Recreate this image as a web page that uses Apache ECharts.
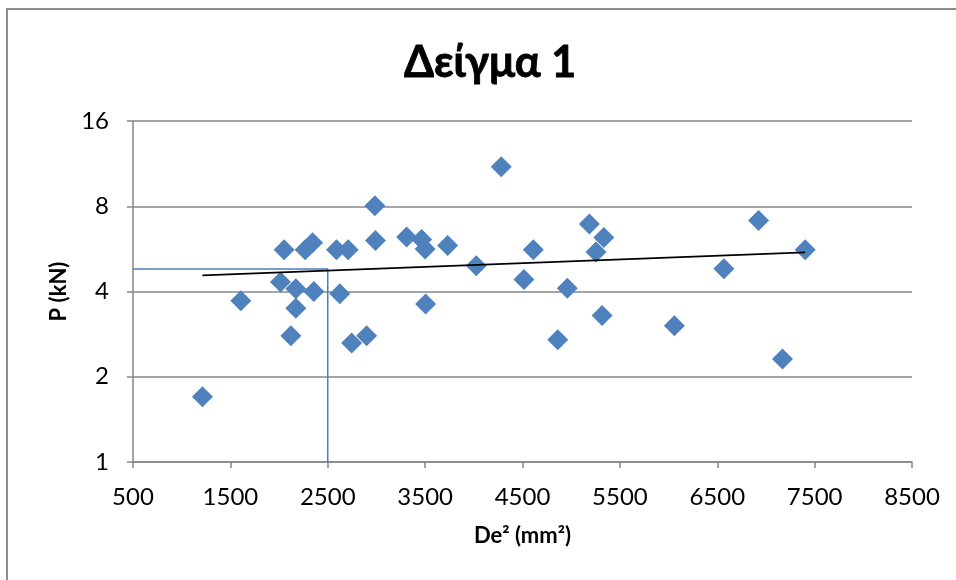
<!DOCTYPE html>
<html>
<head>
<meta charset="utf-8">
<title>Δείγμα 1</title>
<script src="https://cdn.jsdelivr.net/npm/echarts@6/dist/echarts.min.js"></script>
<style>
  html, body { margin: 0; padding: 0; background: #fff; }
  #chart { width: 956px; height: 580px; }
</style>
</head>
<body>
<div id="chart"></div>
<script>
// Specimen 1 measurements: De² (mm²) against failure load P (kN)
const de2Values = [
  1213, 1607, 2052, 2015, 2172, 2172, 2121, 2268, 2344, 2357,
  2590, 2710, 2624, 2745, 2899, 2984, 2990, 3310, 3464, 3500,
  3505, 3731, 4025, 4282, 4611, 4515, 4960, 4862, 5187, 5335,
  5255, 5317, 6060, 6568, 6924, 7170, 7403
];
const pValues = [
  1.70, 3.71, 5.62, 4.32, 4.09, 3.49, 2.79, 5.62, 5.94, 4.00,
  5.62, 5.62, 3.93, 2.63, 2.79, 8.03, 6.05, 6.23, 6.10, 5.65,
  3.61, 5.82, 4.93, 11.03, 5.62, 4.41, 4.11, 2.70, 6.93, 6.21,
  5.52, 3.29, 3.03, 4.81, 7.12, 2.31, 5.62
];

// Exponential trend line end points (straight on the log axis)
const trendX = [1213, 7403];
const trendP = [4.56, 5.50];

// Read-off guide: P at De² = 2500
const guideX = [500, 2500, 2500];
const guideP = [4.8, 4.8, 1];

// Axis ticks
const xTicks = [500, 1500, 2500, 3500, 4500, 5500, 6500, 7500, 8500];
const yTicks = [1, 2, 4, 8, 16];

const zip = (xs, ys) => xs.map((x, i) => [x, ys[i]]);

const chart = echarts.init(document.getElementById('chart'), null, { renderer: 'canvas' });

const font = 'Lato, "Open Sans", "Noto Sans", sans-serif';
const axisGrey = '#878787';

chart.setOption({
  animation: false,
  backgroundColor: '#ffffff',
  textStyle: { fontFamily: font },
  graphic: [{
    type: 'rect',
    shape: { x: 7, y: 9, width: 1000, height: 640 },
    style: { fill: 'none', stroke: '#8c8c8c', lineWidth: 2 },
    silent: true
  }],
  title: {
    text: 'Δείγμα 1',
    left: 399,
    top: 37,
    textStyle: {
      fontFamily: font, fontSize: 43, fontWeight: 'bold', color: '#000',
      textBorderColor: '#000', textBorderWidth: 0.8
    }
  },
  grid: { left: 133, right: 44, top: 121, bottom: 118, containLabel: false },
  xAxis: {
    type: 'value',
    min: 500,
    max: 8500,
    name: 'De² (mm²)',
    nameLocation: 'middle',
    nameGap: 63,
    nameTextStyle: { fontFamily: font, fontSize: 22, fontWeight: 'bold', color: '#000' },
    axisLine: { lineStyle: { color: axisGrey, width: 1.5 } },
    axisTick: { show: true, length: 6, customValues: xTicks, lineStyle: { color: axisGrey, width: 1.5 } },
    axisLabel: {
      customValues: xTicks, margin: 23, fontFamily: font, fontSize: 24, color: '#000',
      formatter: v => String(v)
    },
    splitLine: { show: false }
  },
  yAxis: {
    type: 'log',
    logBase: 2,
    min: 1,
    max: 16,
    name: 'P (kN)',
    nameLocation: 'middle',
    nameGap: 63,
    nameRotate: 90,
    nameTextStyle: { fontFamily: font, fontSize: 22, fontWeight: 'bold', color: '#000' },
    axisLine: { show: true, lineStyle: { color: axisGrey, width: 1.5 } },
    axisTick: { show: true, length: 6, customValues: yTicks, lineStyle: { color: axisGrey, width: 1.5 } },
    axisLabel: {
      customValues: yTicks, margin: 24, fontFamily: font, fontSize: 24, color: '#000',
      formatter: v => String(v)
    },
    splitLine: { show: true, lineStyle: { color: axisGrey, width: 1.5 } }
  },
  series: [
    {
      name: 'guide',
      type: 'line',
      data: zip(guideX, guideP),
      symbol: 'none',
      lineStyle: { color: '#4a7ebb', width: 1.5 },
      z: 2,
      silent: true
    },
    {
      name: 'P',
      type: 'scatter',
      data: zip(de2Values, pValues),
      symbol: 'diamond',
      symbolSize: 21,
      itemStyle: { color: '#4f81bd', opacity: 1 },
      z: 3
    },
    {
      name: 'trend',
      type: 'line',
      data: zip(trendX, trendP),
      symbol: 'none',
      lineStyle: { color: '#000', width: 1.6 },
      z: 4,
      silent: true
    }
  ]
});
</script>
</body>
</html>
